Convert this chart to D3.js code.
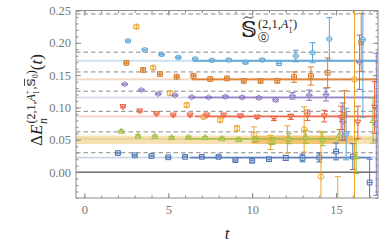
<!DOCTYPE html>
<html><head><meta charset="utf-8">
<script src="https://cdn.jsdelivr.net/npm/d3@7"></script>
<style>body{margin:0;background:#fff}svg{display:block}text{font-family:"Liberation Serif","DejaVu Serif",serif}</style>
</head><body><svg id="c" width="390" height="248"></svg>
<script>
// ---------- data ----------
const seriesNames   = ["n0","n1","n2","n3","n4","n5","n6"];
const seriesColors  = ["#4c72b4","#eba52b","#9bbb3a","#ec5b3b","#8b76c2","#d97b2a","#5ba3d6"];
const seriesOffsets = [0, 0.1, 0.2, 0.3, 0.4, 0.5, 0.6];
const seriesMarkers = ["squareH","circleV","triUp","triDown","diamond","squarePlus","circleH"];

const tN0 = [2,3,4,5,6,7,8,9,10,11,12,13,14,15,16,17];
const vN0 = [0.0295,0.026,0.025,0.023,0.0237,0.0237,0.0237,0.0186,0.0175,0.020,0.022,0.022,0.0227,0.032,0.024,-0.016];
const eN0 = [0.0015,0.0015,0.0015,0.0015,0.0015,0.0015,0.002,0.002,0.0025,0.003,0.004,0.006,0.007,0.013,0.02,0.036];

const tN1 = [3,4,5,6,7,8,9,10,11,12,13,14,15,16];
const vN1 = [0.225,0.1615,0.122,0.1037,0.0856,0.0805,0.0676,0.058,0.046,0.0506,0.066,-0.0067,-0.07,0.1435];
const eN1 = [0.002,0.002,0.003,0.003,0.002,0.003,0.004,0.012,0.011,0.021,0.035,0.07,0.063,0.3];

const tN2 = [2,3,4,5,6,7,8,9,10,11,12,13,14,15,16,17];
const vN2 = [0.0635,0.0562,0.0557,0.0537,0.0542,0.0537,0.052,0.0506,0.051,0.048,0.052,0.0547,0.051,0.0577,0.024,0.08];
const eN2 = [0.0015,0.0015,0.0015,0.0015,0.0015,0.0015,0.002,0.002,0.003,0.005,0.008,0.01,0.01,0.008,0.026,0.035];

const tN3 = [2,3,4,5,6,7,8,9,10,11,12,13,14,15,16,17];
const vN3 = [0.101,0.0944,0.090,0.088,0.088,0.088,0.088,0.0867,0.085,0.083,0.0856,0.088,0.0867,0.084,0.077,0.10];
const eN3 = [0.0015,0.0015,0.0015,0.0015,0.0015,0.0015,0.002,0.002,0.002,0.003,0.004,0.008,0.009,0.018,0.025,0.04];

const tN4 = [2,3,4,5,6,7,8,9,10,11,12,13,14,15,16,17];
const vN4 = [0.136,0.127,0.121,0.119,0.116,0.1156,0.1166,0.1156,0.115,0.112,0.118,0.119,0.12,0.078,0.17,0.074];
const eN4 = [0.0015,0.0015,0.0015,0.0015,0.0015,0.0015,0.002,0.002,0.002,0.003,0.005,0.008,0.01,0.029,0.042,0.11];

const tN5 = [2,3,4,5,6,7,8,9,10,11,12,13,14,15,16];
const vN5 = [0.169,0.158,0.1517,0.1475,0.149,0.144,0.145,0.141,0.141,0.1413,0.147,0.1486,0.1537,0.088,0.2007];
const eN5 = [0.0015,0.002,0.0015,0.0015,0.0015,0.0015,0.002,0.002,0.002,0.003,0.008,0.014,0.023,0.038,0.045];

const tN6 = [2,3,4,5,6,7,8,9,10,11,12,13,14,15,16];
const vN6 = [0.2028,0.189,0.182,0.1775,0.175,0.1729,0.1734,0.1698,0.1734,0.168,0.1796,0.1847,0.206,0.059,0.205];
const eN6 = [0.0015,0.0015,0.0015,0.0015,0.0015,0.0015,0.002,0.002,0.002,0.003,0.009,0.0155,0.033,0.04,0.12];

// fit results (value, error, fit range)
const fitValues = [0.0225,0.050,0.0515,0.0862,0.1155,0.1435,0.1722];
const fitErrors = [0.0013,0.0065,0.0012,0.0013,0.0013,0.0015,0.0016];
const fitStart  = [6.3,10,6,6.6,6.4,6.4,6.5];
const fitEnd    = [17.1,16,15,17.5,17.5,17.5,17.5];

// non-interacting levels (dashed)
const dashedLevels = [0.0300,0.0623,0.0940,0.1252,0.1550,0.1855,0.2446];

const xMajorTicks = [0,5,10,15];
const xMinorTicks = d3.range(0,18);
const yMajorTicks = [0,0.05,0.10,0.15,0.20,0.25];
const yMinorTicks = d3.range(-4,26).map(d=>d/100);

// ---------- chart ----------
const svg = d3.select("#c");
const m = {l:76, r:378, t:10.5, b:198};
const x = d3.scaleLinear().domain([-0.5,17.5]).range([m.l,m.r]);
const y = d3.scaleLinear().domain([-0.04,0.25]).range([m.b,m.t]);

svg.append("defs").append("clipPath").attr("id","clip")
  .append("rect").attr("x",m.l).attr("y",m.t).attr("width",m.r-m.l).attr("height",m.b-m.t);
const plot = svg.append("g").attr("clip-path","url(#clip)");

// light full-width bands
fitValues.forEach((v,i)=>{
  plot.append("rect").attr("x",m.l).attr("width",m.r-m.l)
    .attr("y",y(v+fitErrors[i])).attr("height",y(v-fitErrors[i])-y(v+fitErrors[i]))
    .attr("fill",seriesColors[i]).attr("opacity", i===1?0.35:0.3);
});
// dashed lines
plot.selectAll(".dash").data(dashedLevels).join("line")
  .attr("x1",m.l).attr("x2",m.r).attr("y1",d=>y(d)).attr("y2",d=>y(d))
  .attr("stroke","#8a8a8a").attr("stroke-width",1).attr("stroke-dasharray","4.5,3");
// zero line
plot.append("line").attr("x1",m.l).attr("x2",m.r).attr("y1",y(0)).attr("y2",y(0))
  .attr("stroke","#222").attr("stroke-width",1);
// dark fit bands
fitValues.forEach((v,i)=>{
  plot.append("rect").attr("x",x(fitStart[i])).attr("width",x(fitEnd[i])-x(fitStart[i]))
    .attr("y",y(v+fitErrors[i])).attr("height",y(v-fitErrors[i])-y(v+fitErrors[i]))
    .attr("fill",seriesColors[i]).attr("opacity", i===1?0.45:0.85);
});

function markerPath(type){
  const s=2.4;
  switch(type){
    case "squareH": return `M${-s},${-s}h${2*s}v${2*s}h${-2*s}Z M${-s},0h${2*s}`;
    case "squarePlus": return `M${-s},${-s}h${2*s}v${2*s}h${-2*s}Z M${-s},0h${2*s} M0,${-s}v${2*s}`;
    case "circleV": return `M0,-2.8A2.8,2.8 0 1,1 0,2.8A2.8,2.8 0 1,1 0,-2.8 M0,-2.8V2.8`;
    case "circleH": return `M-2.7,0A2.7,2.3 0 1,1 2.7,0A2.7,2.3 0 1,1 -2.7,0 M-2.7,0H2.7`;
    case "triUp": return `M0,-2.9L3,2.2L-3,2.2Z M-1.6,0H1.6`;
    case "triDown": return `M0,2.9L3,-2.2L-3,-2.2Z M-1.6,0H1.6`;
    case "diamond": return `M0,-2.6L3.2,0L0,2.6L-3.2,0Z M-3.2,0H3.2`;
  }
}

const allT = [tN0,tN1,tN2,tN3,tN4,tN5,tN6];
const allV = [vN0,vN1,vN2,vN3,vN4,vN5,vN6];
const allE = [eN0,eN1,eN2,eN3,eN4,eN5,eN6];

seriesNames.forEach((nm,i)=>{
  const data = allT[i].map((t,j)=>({t:t+seriesOffsets[i], v:allV[i][j], e:allE[i][j]}));
  const g = plot.append("g").attr("stroke",seriesColors[i]).attr("fill","none").attr("stroke-width",1);
  const pts = g.selectAll("g").data(data).join("g");
  pts.append("line").attr("x1",d=>x(d.t)).attr("x2",d=>x(d.t))
    .attr("y1",d=>y(d.v-d.e)).attr("y2",d=>y(d.v+d.e));
  pts.append("line").attr("x1",d=>x(d.t)-3).attr("x2",d=>x(d.t)+3)
    .attr("y1",d=>y(d.v+d.e)).attr("y2",d=>y(d.v+d.e));
  pts.append("line").attr("x1",d=>x(d.t)-3).attr("x2",d=>x(d.t)+3)
    .attr("y1",d=>y(d.v-d.e)).attr("y2",d=>y(d.v-d.e));
  pts.append("path").attr("d",markerPath(seriesMarkers[i]))
    .attr("transform",d=>`translate(${x(d.t)},${y(d.v)})`)
    .attr("fill","rgba(255,255,255,0.35)");
});

// ---------- axes ----------
const axCol = "#8c8c8c";
function styleAxis(g){ g.select(".domain").remove(); g.selectAll("line").attr("stroke",axCol);
  g.selectAll("text").attr("fill","#777").attr("font-size",12.5).attr("font-family","Liberation Serif"); }
svg.append("g").attr("transform",`translate(${m.l},0)`)
  .call(d3.axisLeft(y).tickValues(yMajorTicks).tickSize(-5).tickPadding(5).tickFormat(d3.format(".2f"))).call(styleAxis);
svg.append("g").attr("transform",`translate(${m.l},0)`)
  .call(d3.axisLeft(y).tickValues(yMinorTicks).tickSize(-2.5).tickFormat("")).call(styleAxis);
svg.append("g").attr("transform",`translate(${m.r},0)`)
  .call(d3.axisRight(y).tickValues(yMajorTicks).tickSize(-5).tickFormat("")).call(styleAxis);
svg.append("g").attr("transform",`translate(${m.r},0)`)
  .call(d3.axisRight(y).tickValues(yMinorTicks).tickSize(-2.5).tickFormat("")).call(styleAxis);
svg.append("g").attr("transform",`translate(0,${m.b})`)
  .call(d3.axisBottom(x).tickValues(xMajorTicks).tickSize(-5).tickPadding(7).tickFormat(d3.format("d"))).call(styleAxis);
svg.append("g").attr("transform",`translate(0,${m.b})`)
  .call(d3.axisBottom(x).tickValues(xMinorTicks).tickSize(-2.5).tickFormat("")).call(styleAxis);
svg.append("g").attr("transform",`translate(0,${m.t})`)
  .call(d3.axisTop(x).tickValues(xMajorTicks).tickSize(-5).tickFormat("")).call(styleAxis);
svg.append("g").attr("transform",`translate(0,${m.t})`)
  .call(d3.axisTop(x).tickValues(xMinorTicks).tickSize(-2.5).tickFormat("")).call(styleAxis);
svg.append("rect").attr("x",m.l).attr("y",m.t).attr("width",m.r-m.l).attr("height",m.b-m.t)
  .attr("fill","none").attr("stroke",axCol).attr("stroke-width",1);

// ---------- labels ----------
function put(g,str,px,py,size,style,family){
  const t=g.append("text").attr("x",px).attr("y",py).attr("font-size",size)
    .attr("font-style",style||"normal").attr("fill","#222").text(str);
  if(family) t.attr("font-family",family);
  return t.node().getComputedTextLength();
}
// x label
svg.append("text").attr("x",(m.l+m.r)/2).attr("y",239).attr("text-anchor","middle")
  .attr("font-size",17).attr("font-style","italic").attr("fill","#222").text("t");

// y label
const yl = svg.append("g");
let cx=0;
cx+=put(yl,"Δ",cx,0,17);
cx+=put(yl,"E",cx,0,17,"italic");
const wn=put(yl,"n",cx+0.5,4.5,12,"italic");
let sx=cx+1;
sx+=put(yl,"(2,1,",sx,-7.5,12);
sx+=put(yl,"A",sx,-7.5,12,"italic");
const w1=put(yl,"1",sx,-3.5,7.5); const wp=put(yl,"+",sx,-12.5,7.5); sx+=Math.max(w1,wp)+0.5;
sx+=put(yl,",",sx,-7.5,12);
const wS=put(yl,"𝕊",sx,-7.5,11.5,null,"DejaVu Sans");
yl.append("line").attr("x1",sx+0.5).attr("x2",sx+wS-0.5).attr("y1",-17.5).attr("y2",-17.5).attr("stroke","#222").attr("stroke-width",0.8);
sx+=wS;
sx+=put(yl,"0",sx,-4,8);
sx+=put(yl,")",sx,-7.5,12);
cx=Math.max(sx,cx+wn);
cx+=put(yl,"(",cx,0,17);
cx+=put(yl,"t",cx,0,17,"italic");
cx+=put(yl,")",cx,0,17);
yl.attr("transform",`translate(42,${100+cx/2}) rotate(-90)`);

// inset label
const il = svg.append("g").attr("transform","translate(241,37)");
const wSS=put(il,"𝕊",0,0,22,null,"DejaVu Sans");
il.append("path").attr("d",`M2.5,-18.5 q2.5,-3 5,-1 t5,-1`).attr("fill","none").attr("stroke","#222").attr("stroke-width",0.9);
let ix=wSS+1;
ix+=put(il,"(2,1,",ix,-9,12.5);
ix+=put(il,"A",ix,-9,12.5,"italic");
const a1=put(il,"1",ix,-4.5,8); put(il,"+",ix,-14.5,8); ix+=a1+0.5;
put(il,")",ix,-9,12.5);
put(il,"⓪",wSS+1,3.5,10.5,null,"DejaVu Sans");
</script></body></html>
